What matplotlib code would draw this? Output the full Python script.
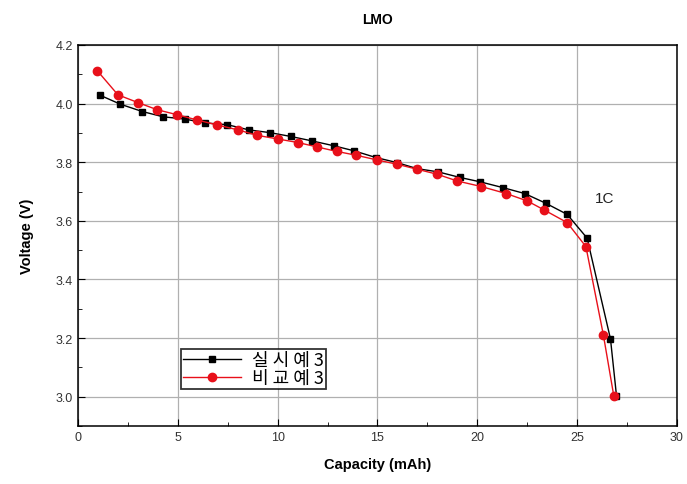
import matplotlib
matplotlib.use('Agg')
from matplotlib import pyplot as plt
from matplotlib.ticker import MultipleLocator

# 실시예 3 (black squares)
cap_ex3 = [1.09, 2.12, 3.22, 4.26, 5.37, 6.36, 7.48, 8.58, 9.61, 10.65, 11.70, 12.82, 13.82,
           14.92, 15.96, 16.99, 18.04, 19.13, 20.15, 21.30, 22.38, 23.43, 24.50, 25.50, 26.67, 26.97]
volt_ex3 = [4.029, 3.998, 3.973, 3.955, 3.947, 3.934, 3.928, 3.910, 3.901, 3.888, 3.873, 3.856, 3.839,
            3.816, 3.799, 3.778, 3.767, 3.748, 3.733, 3.713, 3.693, 3.660, 3.622, 3.541, 3.197, 3.004]

# 비교예 3 (red circles)
cap_cmp3 = [0.97, 2.0, 3.02, 3.97, 4.97, 5.97, 6.98, 8.03, 8.95, 10.03, 11.03, 11.98, 12.95, 13.92,
            14.96, 15.99, 16.99, 17.99, 18.99, 20.2, 21.45, 22.5, 23.35, 24.5, 25.44, 26.31, 26.84]
volt_cmp3 = [4.112, 4.030, 4.003, 3.979, 3.962, 3.944, 3.927, 3.910, 3.892, 3.879, 3.867, 3.852, 3.837,
             3.824, 3.808, 3.793, 3.776, 3.759, 3.736, 3.717, 3.693, 3.668, 3.637, 3.594, 3.512, 3.212, 3.001]

labels = ['실 시 예 3', '비 교 예 3']

plt.rcParams['font.family'] = ['Liberation Sans', 'Noto Sans CJK KR', 'DejaVu Sans']

fig = plt.figure(figsize=(6.87, 4.85), dpi=100)
ax = fig.add_axes([0.1135, 0.1196, 0.8719, 0.7856])

ax.plot(cap_ex3, volt_ex3, color='black', lw=1.0, marker='s', ms=5, label=labels[0], zorder=3)
ax.plot(cap_cmp3, volt_cmp3, color='#e8101a', lw=1.0, marker='o', ms=6, label=labels[1], zorder=4)

ax.set_xlim(0, 30)
ax.set_ylim(2.9, 4.2)
ax.xaxis.set_major_locator(MultipleLocator(5))
ax.xaxis.set_minor_locator(MultipleLocator(2.5))
ax.yaxis.set_minor_locator(MultipleLocator(0.1))
ax.set_yticks([3.0, 3.2, 3.4, 3.6, 3.8, 4.0, 4.2])
ax.set_yticklabels(['3.0', '3.2', '3.4', '3.6', '3.8', '4.0', '4.2'])
ax.tick_params(which='both', direction='in', labelsize=9, labelcolor='#333333')
ax.tick_params(which='major', length=5)
ax.tick_params(which='minor', length=3)
ax.grid(True, which='major', color='#b0b0b0', lw=0.9)
ax.set_axisbelow(True)
for s in ax.spines.values():
    s.set_linewidth(1.1)

ax.set_xlabel('Capacity (mAh)', fontsize=10.5, fontweight='bold', labelpad=10)
ax.set_ylabel('Voltage (V)', fontsize=10.5, fontweight='bold', labelpad=16)
ax.set_title('LMO', fontsize=10, fontweight='bold', pad=16)

ax.text(25.9, 3.665, '1C', fontsize=11, color='#222222')

leg = ax.legend(loc='lower left', bbox_to_anchor=(0.172, 0.097),
                frameon=True, fancybox=False, edgecolor='black', handlelength=3.2,
                borderpad=0.12, labelspacing=0.0, handletextpad=0.6, borderaxespad=0,
                prop={'family': ['Noto Sans CJK KR', 'DejaVu Sans'], 'size': 13, 'weight': 'medium'})
leg.get_frame().set_linewidth(1.3)

fig.savefig('out.png', dpi=100)
